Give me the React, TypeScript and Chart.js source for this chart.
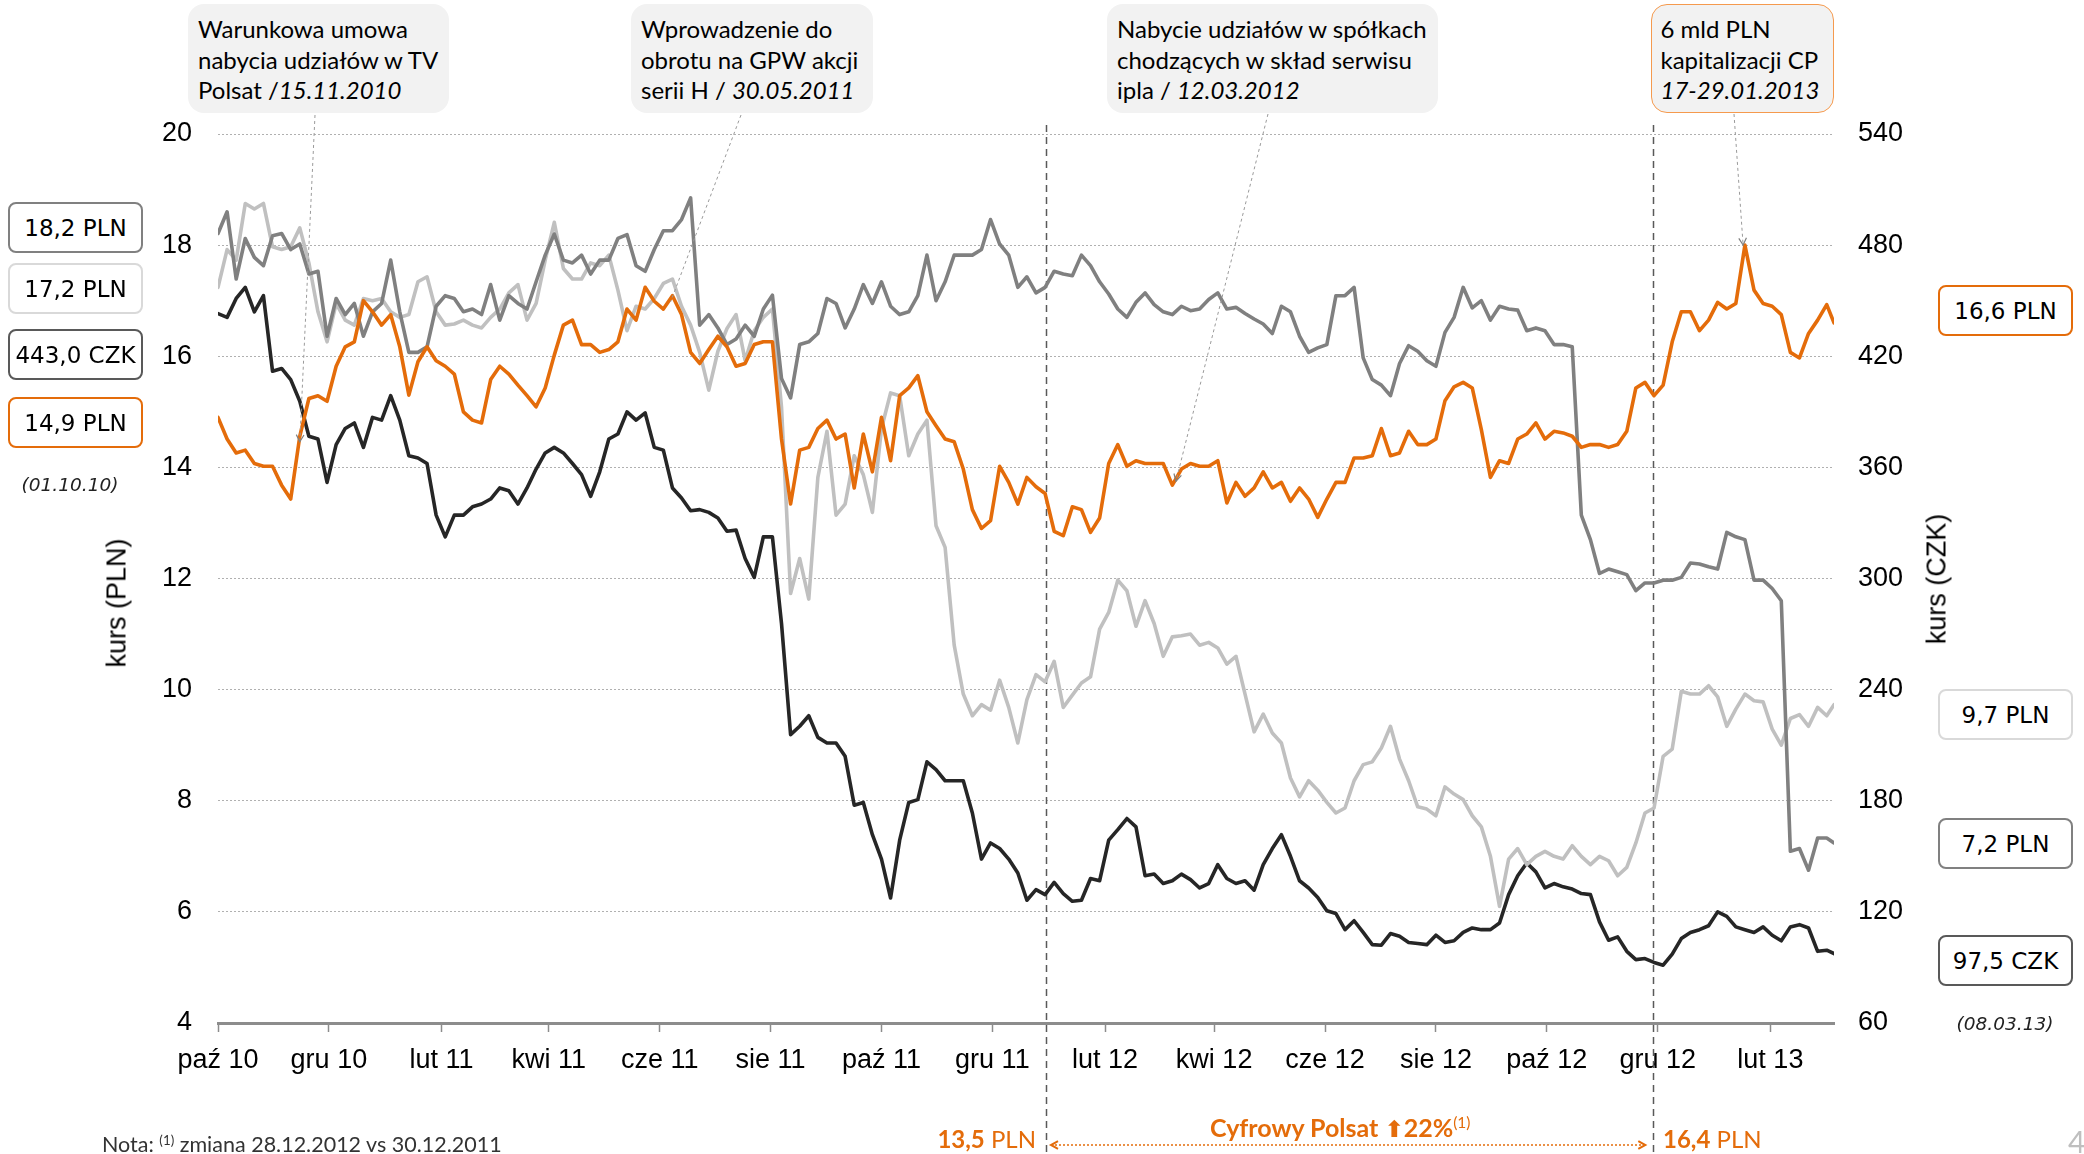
import React, { useEffect, useRef } from "react";
import { Chart, registerables } from "chart.js";

Chart.register(...registerables);

// ---- x grid: day offsets from 01.10.2010 of the sampled quotes ----
const sampleDays = [
  0, 5, 10, 15, 20, 25, 30, 35, 40, 45,
  50, 55, 60, 65, 70, 75, 80, 85, 90, 95,
  100, 105, 110, 115, 120, 125, 130, 135, 140, 145,
  150, 155, 160, 165, 170, 175, 180, 185, 190, 195,
  200, 205, 210, 215, 220, 225, 230, 235, 240, 245,
  250, 255, 260, 265, 270, 275, 280, 285, 290, 295,
  300, 305, 310, 315, 320, 325, 330, 335, 340, 345,
  350, 355, 360, 365, 370, 375, 380, 385, 390, 395,
  400, 405, 410, 415, 420, 425, 430, 435, 440, 445,
  450, 455, 460, 465, 470, 475, 480, 485, 490, 495,
  500, 505, 510, 515, 520, 525, 530, 535, 540, 545,
  550, 555, 560, 565, 570, 575, 580, 585, 590, 595,
  600, 605, 610, 615, 620, 625, 630, 635, 640, 645,
  650, 655, 660, 665, 670, 675, 680, 685, 690, 695,
  700, 705, 710, 715, 720, 725, 730, 735, 740, 745,
  750, 755, 760, 765, 770, 775, 780, 785, 790, 795,
  800, 805, 810, 815, 820, 825, 830, 835, 840, 845,
  850, 855, 860, 865, 870, 875, 880, 885, 889,
];

// month ticks (day offsets) and their labels
const monthTickDays = [0, 61, 123, 182, 243, 304, 365, 426, 488, 548, 609, 670, 731, 792, 854];
const monthTickLabels = [
  "paź 10", "gru 10", "lut 11", "kwi 11", "cze 11", "sie 11", "paź 11", "gru 11",
  "lut 12", "kwi 12", "cze 12", "sie 12", "paź 12", "gru 12", "lut 13",
];
const lastDay = 889;

// ---- series (PLN, left axis) ----
const cyfrowyPolsatPLN = [
  14.9, 14.51, 14.26, 14.31, 14.07, 14.02, 14.02, 13.68, 13.43, 14.56,
  15.24, 15.29, 15.19, 15.82, 16.17, 16.26, 17.0, 16.8, 16.56, 16.75,
  16.17, 15.3, 15.9, 16.17, 15.92, 15.82, 15.68, 15.0, 14.85, 14.8,
  15.58, 15.82, 15.68, 15.48, 15.29, 15.09, 15.43, 16.02, 16.56, 16.65,
  16.21, 16.21, 16.07, 16.12, 16.26, 16.85, 16.65, 17.24, 16.99, 16.85,
  17.09, 16.75, 16.07, 15.87, 16.12, 16.36, 16.17, 15.82, 15.87, 16.21,
  16.26, 16.26, 14.51, 13.34, 14.31, 14.36, 14.7, 14.85, 14.51, 14.6,
  13.63, 14.6, 13.92, 14.9, 14.12, 15.29, 15.43, 15.65, 15.0, 14.75,
  14.51, 14.46, 13.97, 13.24, 12.9, 13.04, 14.02, 13.73, 13.34, 13.82,
  13.65, 13.53, 12.85, 12.77, 13.29, 13.24, 12.83, 13.09, 14.07, 14.41,
  14.02, 14.12, 14.07, 14.07, 14.07, 13.68, 13.97, 14.07, 14.02, 14.02,
  14.12, 13.36, 13.73, 13.48, 13.63, 13.92, 13.63, 13.73, 13.39, 13.63,
  13.43, 13.1, 13.43, 13.73, 13.73, 14.17, 14.17, 14.21, 14.7, 14.21,
  14.26, 14.65, 14.41, 14.41, 14.51, 15.2, 15.45, 15.53, 15.43, 14.68,
  13.82, 14.12, 14.07, 14.51, 14.6, 14.8, 14.51, 14.65, 14.62, 14.56,
  14.36, 14.41, 14.41, 14.36, 14.41, 14.65, 15.43, 15.53, 15.29, 15.48,
  16.26, 16.8, 16.8, 16.46, 16.65, 16.97, 16.85, 16.95, 18.0, 17.19,
  16.95, 16.9, 16.75, 16.07, 15.97, 16.41, 16.65, 16.93, 16.6,
];

const grayPLN = [
  18.21, 18.6, 17.39, 18.12, 17.78, 17.63, 18.17, 18.21, 17.92, 18.02,
  17.48, 17.53, 16.36, 17.04, 16.75, 16.95, 16.36, 16.8, 16.95, 17.73,
  16.8, 16.07, 16.07, 16.17, 16.9, 17.09, 17.04, 16.8, 16.85, 16.75,
  17.29, 16.65, 17.09, 16.95, 16.85, 17.34, 17.82, 18.2, 17.73, 17.68,
  17.82, 17.48, 17.73, 17.73, 18.12, 18.19, 17.63, 17.53, 17.92, 18.26,
  18.26, 18.46, 18.85, 16.56, 16.75, 16.51, 16.21, 16.31, 16.56, 16.36,
  16.85, 17.1, 15.6, 15.25, 16.21, 16.26, 16.41, 17.04, 16.95, 16.51,
  16.85, 17.29, 16.95, 17.34, 16.9, 16.75, 16.8, 17.09, 17.82, 17.0,
  17.34, 17.82, 17.82, 17.82, 17.92, 18.46, 18.02, 17.82, 17.24, 17.43,
  17.14, 17.24, 17.53, 17.48, 17.45, 17.82, 17.63, 17.34, 17.12, 16.85,
  16.7, 16.97, 17.14, 16.93, 16.8, 16.75, 16.9, 16.82, 16.85, 17.02,
  17.14, 16.85, 16.88, 16.77, 16.67, 16.58, 16.41, 16.9, 16.8, 16.36,
  16.07, 16.15, 16.21, 17.09, 17.09, 17.24, 15.97, 15.58, 15.48, 15.29,
  15.87, 16.19, 16.09, 15.92, 15.82, 16.43, 16.7, 17.24, 16.87, 17.0,
  16.65, 16.9, 16.85, 16.83, 16.46, 16.51, 16.46, 16.21, 16.21, 16.17,
  13.14, 12.7, 12.09, 12.17, 12.12, 12.07, 11.78, 11.92, 11.92, 11.97,
  11.97, 12.02, 12.28, 12.26, 12.21, 12.17, 12.83, 12.75, 12.7, 11.97,
  11.97, 11.82, 11.6, 7.09, 7.14, 6.75, 7.33, 7.33, 7.24,
];

const lightGrayPLN = [
  17.24, 17.92, 17.73, 18.75, 18.65, 18.75, 17.97, 17.92, 17.97, 18.31,
  17.68, 16.8, 16.26, 16.95, 16.65, 16.56, 17.04, 17.0, 17.04, 16.8,
  16.7, 16.75, 17.34, 17.43, 16.8, 16.56, 16.58, 16.65, 16.56, 16.51,
  16.7, 16.85, 17.14, 17.29, 16.65, 16.95, 17.73, 18.41, 17.58, 17.39,
  17.39, 17.68, 17.63, 17.82, 17.19, 16.46, 16.9, 16.85, 17.04, 17.31,
  17.39, 16.9, 16.56, 16.07, 15.39, 16.09, 16.5, 16.75, 15.92, 16.46,
  16.7, 16.85, 15.09, 11.73, 12.36, 11.63, 13.82, 14.65, 13.14, 13.34,
  14.21, 13.87, 13.19, 14.7, 15.34, 15.29, 14.21, 14.6, 14.85, 12.95,
  12.56, 10.8, 9.92, 9.53, 9.73, 9.63, 10.17, 9.68, 9.04, 9.82,
  10.27, 10.14, 10.51, 9.68, 9.9, 10.12, 10.23, 11.09, 11.39, 11.97,
  11.78, 11.14, 11.6, 11.19, 10.6, 10.95, 10.97, 11.0, 10.8, 10.85,
  10.75, 10.46, 10.6, 9.92, 9.24, 9.56, 9.22, 9.04, 8.41, 8.07,
  8.36, 8.19, 7.97, 7.78, 7.87, 8.36, 8.65, 8.7, 8.95, 9.34,
  8.75, 8.36, 7.89, 7.85, 7.73, 8.25, 8.12, 8.02, 7.73, 7.53,
  7.0, 6.1, 6.95, 7.14, 6.85, 7.0, 7.09, 7.0, 6.95, 7.19,
  7.0, 6.85, 7.0, 6.92, 6.65, 6.8, 7.24, 7.78, 7.87, 8.8,
  8.93, 9.97, 9.92, 9.92, 10.07, 9.87, 9.34, 9.65, 9.92, 9.8,
  9.78, 9.29, 9.0, 9.48, 9.55, 9.34, 9.68, 9.53, 9.73,
];

// ---- series (CZK, right axis) ----
const czkSeries = [
  443, 441, 451.2, 457.2, 444, 452.7, 411.9, 413.4, 407.4, 395.7,
  376.8, 375.3, 351.9, 372.3, 381, 384, 370.8, 387, 385.5, 398.7,
  385.5, 366.3, 365.1, 362.1, 334.2, 322.5, 334.2, 334.2, 338.7, 340.2,
  342.9, 348.9, 347.4, 340.2, 348.9, 359.1, 367.8, 370.8, 367.8, 362.1,
  356.1, 344.4, 357.6, 375.3, 378, 390, 385.5, 389.4, 370.8, 369.3,
  348.9, 343.5, 336.6, 337.2, 335.7, 332.7, 325.5, 326.1, 310.8, 300.6,
  322.5, 322.5, 275.7, 215.7, 220.2, 225.9, 214.2, 211.2, 211.2, 204,
  177.6, 179.1, 161.7, 148.5, 127.5, 158.7, 179.1, 180.6, 201, 196.8,
  190.8, 190.8, 190.8, 173.4, 148.5, 157.2, 154.2, 148.5, 141, 126.3,
  132, 129.3, 135.9, 129.9, 125.7, 126.3, 138, 136.8, 158.7, 164.4,
  170.4, 165.9, 139.5, 140.4, 135.3, 136.8, 140.4, 137.4, 132.9, 135.3,
  145.5, 138, 135.3, 136.8, 131.7, 145.5, 154.2, 161.7, 150, 136.8,
  132.9, 127.8, 120.6, 119.1, 110.4, 115.2, 108.9, 102.3, 102, 108.3,
  106.8, 103.5, 102.9, 102.3, 107.4, 103.5, 104.4, 108.9, 111.3, 110.4,
  110.4, 114, 129.3, 139.5, 146.4, 141.6, 132.9, 135.3, 133.5, 132.3,
  129.9, 129.3, 114.6, 104.7, 106.5, 98.7, 94.2, 94.8, 92.7, 91.2,
  97.2, 105.6, 108.9, 110.4, 112.5, 120, 117.6, 111.9, 110.4, 108.9,
  111.9, 107.4, 104.4, 111.9, 113.1, 111.3, 98.7, 99.3, 97.5,
];

// period marked by dashed lines (day offsets)
const periodDays = [455.5, 789.6];

// annotation targets (data coordinates) + box anchor (px)
const leaders = [
  { fromX: 315, fromY: 115, day: 45, value: 14.46, arrow: true },
  { fromX: 741, fromY: 115, day: 249, value: 16.98, arrow: false },
  { fromX: 1268, fromY: 114, day: 527, value: 13.75, arrow: true },
  { fromX: 1734, fromY: 114, day: 839, value: 18.0, arrow: true },
];

const ORANGE = "#e46c0a";
const GRAY = "#808080";
const LIGHT = "#c0c0c0";
const DARK = "#262626";
const TICK_FONT = "'Liberation Sans', Arial, sans-serif";
const BOX_FONT = "'DejaVu Sans', Verdana, sans-serif";
const NOTE_FONT = "Lato, 'Open Sans', sans-serif";

const fmt = (v: number) => v.toFixed(1).replace(".", ",");

function chevron(ctx: CanvasRenderingContext2D, tx: number, ty: number, fx: number, fy: number, size: number) {
  const ang = Math.atan2(ty - fy, tx - fx);
  const a1 = ang + Math.PI - 0.5;
  const a2 = ang + Math.PI + 0.5;
  ctx.beginPath();
  ctx.moveTo(tx + Math.cos(a1) * size, ty + Math.sin(a1) * size);
  ctx.lineTo(tx, ty);
  ctx.lineTo(tx + Math.cos(a2) * size, ty + Math.sin(a2) * size);
  ctx.stroke();
}

const marksPlugin = {
  id: "marks",
  beforeDatasetsDraw(chart: any) {
    const { ctx, scales } = chart;
    const x = scales.x;
    ctx.save();
    ctx.strokeStyle = "#595959";
    ctx.lineWidth = 1.5;
    ctx.setLineDash([7, 5]);
    for (const d of periodDays) {
      const px = Math.round(x.getPixelForValue(d)) + 0.5;
      ctx.beginPath();
      ctx.moveTo(px, 125);
      ctx.lineTo(px, 1154);
      ctx.stroke();
    }
    ctx.restore();
  },
  afterDraw(chart: any) {
    const { ctx, scales } = chart;
    const x = scales.x;
    const y = scales.y;
    ctx.save();
    for (const l of leaders) {
      const tx = x.getPixelForValue(l.day);
      const ty = y.getPixelForValue(l.value);
      ctx.strokeStyle = "#9a9a9a";
      ctx.lineWidth = 1;
      ctx.setLineDash([3, 3]);
      ctx.beginPath();
      ctx.moveTo(l.fromX, l.fromY);
      ctx.lineTo(tx, ty);
      ctx.stroke();
      if (l.arrow) {
        ctx.setLineDash([]);
        ctx.strokeStyle = "#7f7f7f";
        ctx.lineWidth = 1.2;
        chevron(ctx, tx, ty, l.fromX, l.fromY, 8);
      }
    }
    // orange double arrow between the period lines
    const x0 = x.getPixelForValue(periodDays[0]) + 5;
    const x1 = x.getPixelForValue(periodDays[1]) - 8;
    const ay = 1145;
    ctx.strokeStyle = ORANGE;
    ctx.lineWidth = 1.5;
    ctx.setLineDash([2, 2]);
    ctx.beginPath();
    ctx.moveTo(x0, ay);
    ctx.lineTo(x1, ay);
    ctx.stroke();
    ctx.setLineDash([]);
    ctx.lineWidth = 2;
    chevron(ctx, x0, ay, x0 + 20, ay, 8);
    chevron(ctx, x1, ay, x1 - 20, ay, 8);
    ctx.restore();
  },
};

const boxStyle = (left: number, top: number, color: string): React.CSSProperties => ({
  position: "absolute",
  left,
  top,
  width: 135,
  height: 51,
  boxSizing: "border-box",
  border: `2px solid ${color}`,
  borderRadius: 8,
  background: "#fff",
  display: "flex",
  alignItems: "center",
  justifyContent: "center",
  fontFamily: BOX_FONT,
  fontSize: 23,
  color: "#000",
  whiteSpace: "nowrap",
});

const noteStyle = (left: number, width: number, border?: string): React.CSSProperties => ({
  position: "absolute",
  left,
  top: 4,
  width,
  height: 109,
  boxSizing: "border-box",
  background: "#f2f2f2",
  borderRadius: 16,
  border: border ? `1.5px solid ${border}` : "none",
  padding: border ? "9px 0 0 8.5px" : "10px 0 0 10px",
  fontFamily: NOTE_FONT,
  fontSize: 24,
  lineHeight: "30.5px",
  color: "#000",
  whiteSpace: "nowrap",
});

export default function App() {
  const ref = useRef<HTMLCanvasElement>(null);

  useEffect(() => {
    document.body.style.margin = "0";
    document.body.style.overflow = "hidden";
    const pts = (arr: number[]) => sampleDays.map((d, i) => ({ x: d, y: arr[i] }));
    const chart = new Chart(ref.current as HTMLCanvasElement, {
      type: "line",
      data: {
        datasets: [
          { label: "Cyfrowy Polsat", data: pts(cyfrowyPolsatPLN), borderColor: ORANGE, yAxisID: "y", order: 0 },
          { label: "Spółka B (PLN)", data: pts(grayPLN), borderColor: GRAY, yAxisID: "y", order: 1 },
          { label: "Spółka C (PLN)", data: pts(lightGrayPLN), borderColor: LIGHT, yAxisID: "y", order: 2 },
          { label: "Spółka D (CZK)", data: pts(czkSeries), borderColor: DARK, yAxisID: "y1", order: 3 },
        ],
      } as any,
      options: {
        animation: false,
        responsive: false,
        events: [],
        layout: { padding: { top: 134, left: 0, right: 0, bottom: 0 } },
        plugins: { legend: { display: false }, tooltip: { enabled: false } },
        elements: {
          point: { radius: 0 },
          line: { borderWidth: 3.6, tension: 0, borderJoinStyle: "round", borderCapStyle: "round" },
        },
        scales: {
          x: {
            type: "linear",
            min: 0,
            max: lastDay,
            afterBuildTicks: (s: any) => {
              s.ticks = monthTickDays.map((v) => ({ value: v }));
            },
            afterFit: (s: any) => {
              s.height = 131;
            },
            ticks: {
              autoSkip: false,
              maxRotation: 0,
              minRotation: 0,
              padding: 12,
              color: "#000",
              font: { family: TICK_FONT, size: 27 },
              callback: (v: any) => {
                const i = monthTickDays.indexOf(Number(v));
                return i >= 0 ? monthTickLabels[i] : "";
              },
            },
            grid: { drawOnChartArea: false, drawTicks: true, tickLength: 9, tickColor: "#8c8c8c", tickWidth: 1.5 },
            border: { display: true, color: "#8c8c8c", width: 3 },
          },
          y: {
            position: "left",
            min: 4,
            max: 20,
            afterFit: (s: any) => {
              s.width = 218;
            },
            ticks: { stepSize: 2, padding: 26, color: "#000", font: { family: TICK_FONT, size: 27 } },
            grid: {
              drawTicks: false,
              lineWidth: 1,
              color: (c: any) => (c.tick && c.tick.value === 4 ? "rgba(0,0,0,0)" : "#b0b0b0"),
            },
            border: { display: false, dash: [2, 2] },
          },
          y1: {
            position: "right",
            min: 60,
            max: 540,
            afterFit: (s: any) => {
              s.width = 250;
            },
            ticks: { stepSize: 60, padding: 24, color: "#000", font: { family: TICK_FONT, size: 27 } },
            grid: { drawOnChartArea: false, drawTicks: false },
            border: { display: false },
          },
        },
      } as any,
      plugins: [marksPlugin],
    });
    return () => chart.destroy();
  }, []);

  const n = sampleDays.length - 1;
  const orangeTxt: React.CSSProperties = { color: ORANGE, fontFamily: NOTE_FONT };

  return (
    <div style={{ position: "relative", width: 2084, height: 1154, overflow: "hidden", background: "#fff" }}>
      <canvas ref={ref} width={2084} height={1154} style={{ position: "absolute", left: 0, top: 0, width: 2084, height: 1154 }} />

      {/* axis titles */}
      <div style={{ position: "absolute", left: 117, top: 603, transform: "translate(-50%,-50%) rotate(-90deg)", fontFamily: TICK_FONT, fontSize: 27, whiteSpace: "nowrap", color: "#000" }}>kurs (PLN)</div>
      <div style={{ position: "absolute", left: 1937, top: 579, transform: "translate(-50%,-50%) rotate(-90deg)", fontFamily: TICK_FONT, fontSize: 27, whiteSpace: "nowrap", color: "#000" }}>kurs (CZK)</div>

      {/* start values */}
      <div style={boxStyle(8, 202, GRAY)}>{fmt(grayPLN[0])} PLN</div>
      <div style={boxStyle(8, 263, "#d9d9d9")}>{fmt(lightGrayPLN[0])} PLN</div>
      <div style={boxStyle(8, 329, "#595959")}>{fmt(czkSeries[0])} CZK</div>
      <div style={boxStyle(8, 397, ORANGE)}>{fmt(cyfrowyPolsatPLN[0])} PLN</div>
      <div style={{ position: "absolute", left: 70, top: 484, transform: "translate(-50%,-50%)", fontFamily: BOX_FONT, fontStyle: "italic", fontSize: 18.5, color: "#222", whiteSpace: "nowrap" }}>(01.10.10)</div>

      {/* end values */}
      <div style={boxStyle(1938, 285, ORANGE)}>{fmt(cyfrowyPolsatPLN[n])} PLN</div>
      <div style={boxStyle(1938, 689, "#d9d9d9")}>{fmt(lightGrayPLN[n])} PLN</div>
      <div style={boxStyle(1938, 818, GRAY)}>{fmt(grayPLN[n])} PLN</div>
      <div style={boxStyle(1938, 935, "#595959")}>{fmt(czkSeries[n])} CZK</div>
      <div style={{ position: "absolute", left: 2005, top: 1023, transform: "translate(-50%,-50%)", fontFamily: BOX_FONT, fontStyle: "italic", fontSize: 18.5, color: "#222", whiteSpace: "nowrap" }}>(08.03.13)</div>

      {/* top notes */}
      <div style={noteStyle(188, 261)}>
        Warunkowa umowa<br />nabycia udziałów w TV<br />Polsat /<i>15.11.2010</i>
      </div>
      <div style={noteStyle(631, 242)}>
        Wprowadzenie do<br />obrotu na GPW akcji<br />serii H / <i>30.05.2011</i>
      </div>
      <div style={noteStyle(1107, 331)}>
        Nabycie udziałów w spółkach<br />chodzących w skład serwisu<br />ipla / <i>12.03.2012</i>
      </div>
      <div style={noteStyle(1651, 183, "#f59a4e")}>
        6 mld PLN<br />kapitalizacji CP<br /><i>17-29.01.2013</i>
      </div>

      {/* bottom texts */}
      <div style={{ position: "absolute", left: 102, top: 1134, fontFamily: NOTE_FONT, fontSize: 21.5, lineHeight: 1, color: "#333", whiteSpace: "nowrap" }}>
        Nota: <span style={{ fontSize: "0.62em", position: "relative", top: "-0.55em" }}>(1)</span> zmiana 28.12.2012 vs 30.12.2011
      </div>
      <div style={{ position: "absolute", right: 2084 - 1036, top: 1127, fontSize: 24, lineHeight: 1, whiteSpace: "nowrap", ...orangeTxt }}>
        <b>13,5</b> PLN
      </div>
      <div style={{ position: "absolute", left: 1663, top: 1127, fontSize: 24, lineHeight: 1, whiteSpace: "nowrap", ...orangeTxt }}>
        <b>16,4</b> PLN
      </div>
      <div style={{ position: "absolute", left: 1210, top: 1115, fontSize: 25, lineHeight: 1, whiteSpace: "nowrap", fontWeight: 700, ...orangeTxt }}>
        Cyfrowy Polsat <span style={{ fontFamily: "'DejaVu Sans', sans-serif", fontSize: 23 }}>⬆</span>22%
        <span style={{ fontSize: "0.62em", position: "relative", top: "-0.6em", fontWeight: 400 }}>(1)</span>
      </div>
      <div style={{ position: "absolute", left: 2068, top: 1126, fontFamily: NOTE_FONT, fontSize: 30, lineHeight: 1, color: "#bfbfbf" }}>4</div>
    </div>
  );
}
